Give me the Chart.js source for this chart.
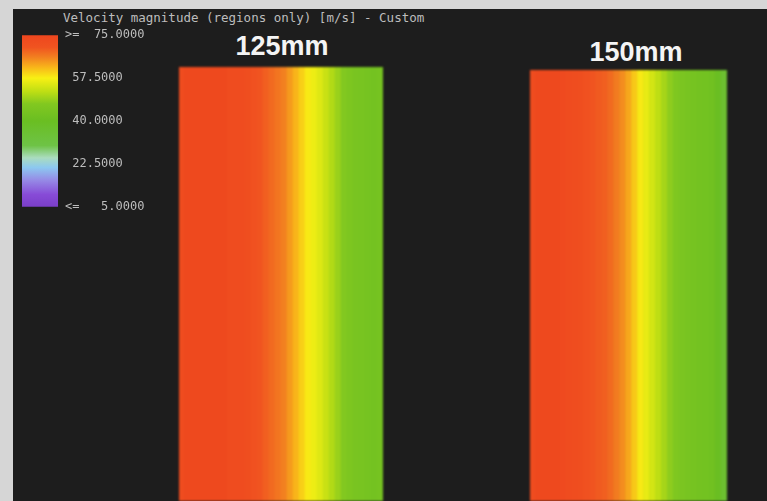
<!DOCTYPE html>
<html>
<head>
<meta charset="utf-8">
<script src="https://cdn.jsdelivr.net/npm/chart.js@4.4.0/dist/chart.umd.min.js"></script>
<style>
  html, body { margin: 0; padding: 0; }
  body { width: 767px; height: 501px; background: #d6d6d6; position: relative; overflow: hidden; }
  #frame { position: absolute; left: 13px; top: 9px; right: 0; bottom: 0; background: #1d1d1d; }
  .caption { position: absolute; left: 63px; top: 11px; color: #bdbdbd; font-family: "DejaVu Sans Mono", monospace; font-size: 12.5px; line-height: 14px; white-space: pre; }
  .title { position: absolute; color: #f4f4f4; font-family: "Liberation Sans", Arial, sans-serif; font-weight: bold; font-size: 27px; line-height: 27px; transform: translateX(-50%); white-space: nowrap; }
  canvas { position: absolute; }
  .panel { filter: blur(1px); }
</style>
</head>
<body>
<div id="frame"></div>
<div class="caption">Velocity magnitude (regions only) [m/s] - Custom</div>
<div class="title" style="left:282px; top:33px;">125mm</div>
<div class="title" style="left:636px; top:39px;">150mm</div>
<canvas id="legend" width="136" height="200" style="left:22px; top:21px;"></canvas>
<canvas id="duct125" class="panel" width="204" height="434" style="left:179px; top:67px;"></canvas>
<canvas id="duct150" class="panel" width="197" height="431" style="left:530px; top:70px;"></canvas>
<script>
// velocity magnitude (m/s) across the duct width, left wall -> right wall
const velocity125 = [73, 74, 74, 74, 74, 74, 74, 74, 73, 73, 73, 72, 71, 70, 69, 68, 67,
  66, 64, 62, 60, 58, 56.5, 55, 53, 51, 49, 47, 45.5, 44.5, 44, 43.5, 43, 43.5];
const velocity150 = [73, 74, 74, 74, 74, 73.5, 73, 72.5, 72, 71, 70, 69.5, 69, 68, 66.5,
  65, 63, 60.5, 58, 56, 54, 52, 50, 48, 46, 45, 44, 43.5, 43, 42.5, 42, 40, 36];
const legendTicks = [75, 57.5, 40, 22.5, 5];

// colour map of the contour legend
const palette = [
  [5, [122, 62, 200]],
  [10, [135, 75, 215]],
  [16, [150, 140, 230]],
  [21, [140, 200, 240]],
  [25, [170, 220, 190]],
  [30, [110, 195, 70]],
  [40, [106, 190, 34]],
  [47, [130, 200, 32]],
  [52, [190, 222, 20]],
  [57.5, [248, 240, 20]],
  [62, [248, 180, 26]],
  [66, [242, 128, 32]],
  [70, [240, 84, 32]],
  [75, [238, 70, 30]]
];

function colourFor(v) {
  if (v <= palette[0][0]) return 'rgb(' + palette[0][1].join(',') + ')';
  for (let i = 1; i < palette.length; i++) {
    const [v1, c1] = palette[i];
    if (v <= v1) {
      const [v0, c0] = palette[i - 1];
      const t = (v - v0) / (v1 - v0);
      const c = c0.map((x, k) => Math.round(x + (c1[k] - x) * t));
      return 'rgb(' + c.join(',') + ')';
    }
  }
  return 'rgb(' + palette[palette.length - 1][1].join(',') + ')';
}

function tickLabel(v) {
  const s = v.toFixed(4);
  if (v === legendTicks[0]) return '>= ' + s.padStart(8);
  if (v === legendTicks[legendTicks.length - 1]) return '<= ' + s.padStart(8);
  return s.padStart(8);
}

function legendGradient(chart) {
  const area = chart.chartArea;
  if (!area) return null;
  const y = chart.scales.y;
  const g = chart.ctx.createLinearGradient(0, area.bottom, 0, area.top);
  const span = area.bottom - area.top;
  palette.forEach(([v, c]) => {
    const pos = (area.bottom - y.getPixelForValue(v)) / span;
    g.addColorStop(Math.min(1, Math.max(0, pos)), 'rgb(' + c.join(',') + ')');
  });
  return g;
}

new Chart(document.getElementById('legend'), {
  type: 'bar',
  data: {
    labels: ['velocity'],
    datasets: [{
      data: [[legendTicks[legendTicks.length - 1], legendTicks[0]]],
      backgroundColor: ctx => legendGradient(ctx.chart),
      borderWidth: 0,
      barPercentage: 1,
      categoryPercentage: 1
    }]
  },
  options: {
    responsive: false,
    animation: false,
    events: [],
    layout: { padding: 0 },
    plugins: { legend: { display: false }, tooltip: { enabled: false } },
    scales: {
      x: { display: false },
      y: {
        position: 'right',
        min: legendTicks[legendTicks.length - 1],
        max: legendTicks[0],
        grid: { display: false, drawTicks: false },
        border: { display: false },
        afterFit: s => { s.width = 100; },
        afterBuildTicks: s => { s.ticks = legendTicks.map(v => ({ value: v })); },
        ticks: {
          padding: 7,
          color: '#bdbdbd',
          font: { family: 'DejaVu Sans Mono', size: 12 },
          callback: v => tickLabel(v)
        }
      }
    }
  }
});

function drawDuct(id, values) {
  new Chart(document.getElementById(id), {
    type: 'bar',
    data: {
      labels: values.map((v, i) => i),
      datasets: [{
        data: values.map(() => [0, 1]),
        backgroundColor: values.map(colourFor),
        borderWidth: 0,
        barPercentage: 1,
        categoryPercentage: 1
      }]
    },
    options: {
      responsive: false,
      animation: false,
      events: [],
      plugins: { legend: { display: false }, tooltip: { enabled: false } },
      scales: {
        x: { display: false },
        y: { display: false, min: 0, max: 1 }
      }
    }
  });
}

drawDuct('duct125', velocity125);
drawDuct('duct150', velocity150);
</script>
</body>
</html>
